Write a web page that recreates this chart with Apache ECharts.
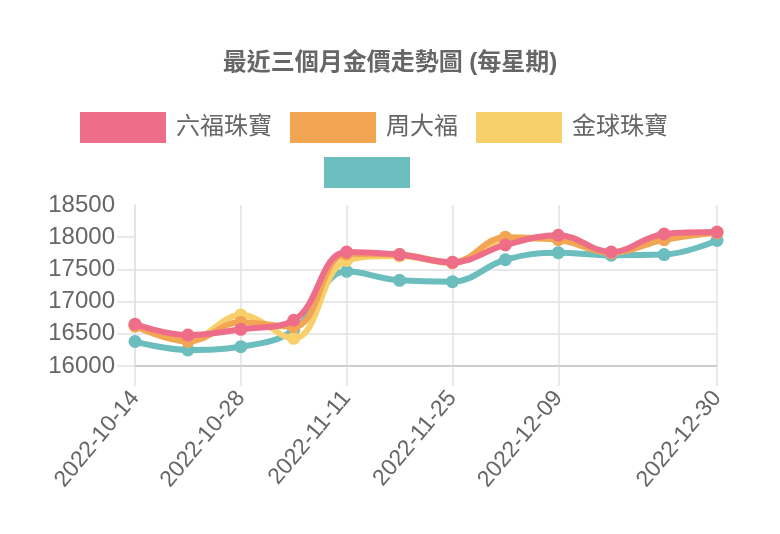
<!DOCTYPE html>
<html>
<head>
<meta charset="utf-8">
<script src="https://cdn.jsdelivr.net/npm/echarts@6/dist/echarts.min.js"></script>
<style>
  html, body { margin: 0; padding: 0; background: #fff; }
</style>
</head>
<body>
<div id="main" style="width: 780px; height: 534px"></div>
<script>
// 每星期日期
const dates = ['2022-10-14', '2022-10-21', '2022-10-28', '2022-11-04', '2022-11-11', '2022-11-18',
  '2022-11-25', '2022-12-02', '2022-12-09', '2022-12-16', '2022-12-23', '2022-12-30']
// 各店金價
const lukfook = [16650, 16480, 16570, 16710, 17770, 17730, 17610, 17880, 18030, 17770, 18050, 18080]
const chowTaiFook = [16620, 16380, 16680, 16610, 17740, 17730, 17610, 18000, 17960, 17760, 17960, 18070]
const goldBall = [16630, 16400, 16790, 16430, 17640, 17710, 17600, 17960, 17980, 17760, 17990, 18070]
const unnamed = [16380, 16250, 16300, 16560, 17470, 17330, 17310, 17650, 17760, 17720, 17730, 17950]
const seriesNames = ['六福珠寶', '周大福', '金球珠寶', ' ']
// 顯示的日期標籤
const shownTicks = [0, 2, 4, 6, 8, 11]
const yTicks = [16000, 16500, 17000, 17500, 18000]

const colors = ['#ee6e8a', '#f2a553', '#f7cf6b', '#6cbdbd']
const font = "'Liberation Sans', 'Noto Sans CJK TC', sans-serif"
const showIdx = (i) => shownTicks.indexOf(i) !== -1

const myChart = echarts.init(document.getElementById('main'))

function makeSeries(name, data, idx, z) {
  return {
    name: name,
    type: 'line',
    data: data,
    smooth: 0.4,
    symbol: 'circle',
    symbolSize: 13,
    z: z,
    lineStyle: { width: 6, color: colors[idx] },
    itemStyle: { color: colors[idx] },
    emphasis: { disabled: true }
  }
}

const option = {
  animation: false,
  title: {
    text: '最近三個月金價走勢圖 (每星期)',
    left: 'center',
    top: 46,
    textStyle: { fontFamily: font, fontSize: 24, fontWeight: 'bold', color: '#666' }
  },
  legend: [
    {
      data: seriesNames.slice(0, 3),
      top: 112,
      left: 80,
      padding: 0,
      icon: 'rect',
      itemWidth: 86,
      itemHeight: 31,
      itemGap: 18,
      textStyle: { fontFamily: font, fontSize: 24, color: '#666', padding: [0, 0, 0, 5] }
    },
    {
      data: [seriesNames[3]],
      top: 157,
      left: 324,
      padding: 0,
      icon: 'rect',
      itemWidth: 86,
      itemHeight: 31,
      textStyle: { fontFamily: font, fontSize: 24, color: '#666' }
    }
  ],
  grid: { left: 135, right: 63, top: 205, bottom: 168 },
  xAxis: {
    type: 'category',
    data: dates,
    boundaryGap: false,
    axisLine: { lineStyle: { color: '#c4c4c4', width: 1.5 } },
    axisTick: { show: true, length: 20, interval: showIdx, lineStyle: { color: '#e2e2e2', width: 1.5 } },
    splitLine: { show: true, interval: showIdx, lineStyle: { color: '#e2e2e2', width: 1.5 } },
    axisLabel: {
      interval: showIdx,
      rotate: 50,
      margin: 28,
      fontFamily: font,
      fontSize: 23,
      color: '#666'
    }
  },
  yAxis: {
    type: 'value',
    min: 16000,
    max: 18500,
    interval: 500,
    axisLine: { show: true, lineStyle: { color: '#e2e2e2', width: 1.5 } },
    axisTick: { show: true, length: 18, customValues: yTicks, lineStyle: { color: '#e2e2e2', width: 1.5 } },
    splitLine: { show: true, showMaxLine: false, lineStyle: { color: '#e2e2e2', width: 1.5 } },
    axisLabel: {
      margin: 20,
      fontFamily: font,
      fontSize: 24,
      color: '#666',
      formatter: (v) => String(v)
    }
  },
  series: [
    makeSeries(seriesNames[0], lukfook, 0, 5),
    makeSeries(seriesNames[1], chowTaiFook, 1, 4),
    makeSeries(seriesNames[2], goldBall, 2, 3),
    makeSeries(seriesNames[3], unnamed, 3, 2)
  ]
}

myChart.setOption(option)
</script>
</body>
</html>
